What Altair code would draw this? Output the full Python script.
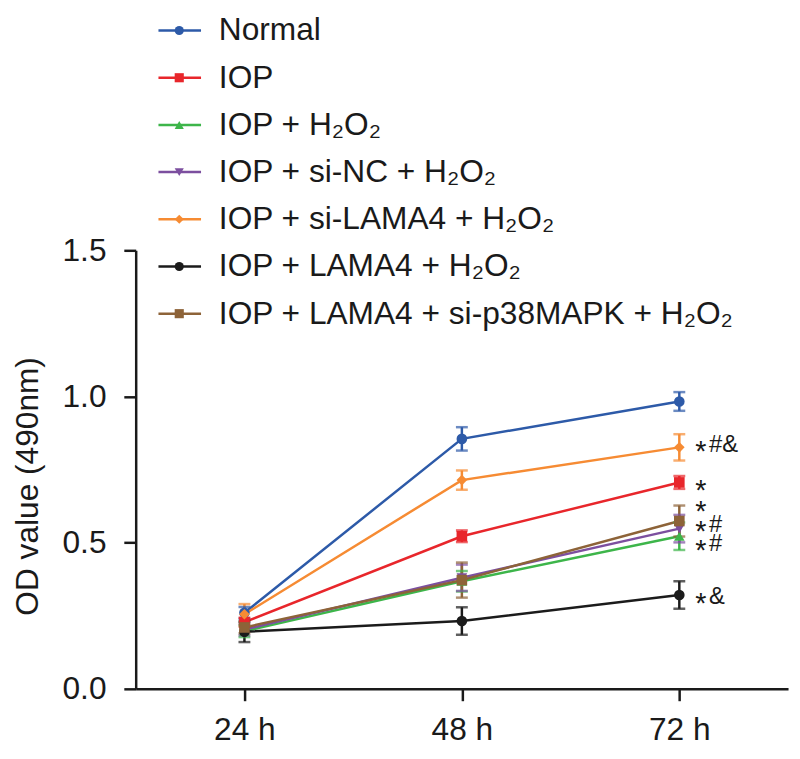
import altair as alt
import pandas as pd

# ---------------- data ----------------
times = [24, 48, 72]
groups = [
    "Normal",
    "IOP",
    "IOP + H₂O₂",
    "IOP + si-NC + H₂O₂",
    "IOP + si-LAMA4 + H₂O₂",
    "IOP + LAMA4 + H₂O₂",
    "IOP + LAMA4 + si-p38MAPK + H₂O₂",
]
colors = ["#2d5aa8", "#e8262b", "#3db54a", "#7c4f9f", "#f68b33", "#1b1b1b", "#8d6338"]
shapes = ["circle", "square", "triangle-up", "triangle-down", "diamond", "circle", "square"]

mean_normal = [0.26, 0.855, 0.983]
mean_iop = [0.228, 0.522, 0.706]
mean_h2o2 = [0.197, 0.368, 0.522]
mean_sinc = [0.203, 0.38, 0.548]
mean_silama4 = [0.255, 0.714, 0.826]
mean_lama4 = [0.195, 0.232, 0.321]
mean_p38 = [0.21, 0.372, 0.574]

err_normal = [0.02, 0.04, 0.032]
err_iop = [0.015, 0.02, 0.022]
err_h2o2 = [0.02, 0.035, 0.047]
err_sinc = [0.02, 0.045, 0.047]
err_silama4 = [0.035, 0.033, 0.045]
err_lama4 = [0.035, 0.047, 0.047]
err_p38 = [0.02, 0.06, 0.053]

means = [mean_normal, mean_iop, mean_h2o2, mean_sinc, mean_silama4, mean_lama4, mean_p38]
errs = [err_normal, err_iop, err_h2o2, err_sinc, err_silama4, err_lama4, err_p38]

# significance marks at 72 h: star part and symbol part
ann_stars = ["*", "*", "*", "*", "*", "*"]
ann_marks = ["#&", "", "", "#", "#", "&"]
ann_values = [0.833, 0.700, 0.629, 0.561, 0.494, 0.314]

# ---------------- tables ----------------
rows = []
for gi, g in enumerate(groups):
    for ti, t in enumerate(times):
        m = means[gi][ti]
        e = errs[gi][ti]
        rows.append({"group": g, "order": gi, "time": t, "mean": m, "lo": m - e, "hi": m + e})
df = pd.DataFrame(rows)
legend_df = pd.DataFrame({"group": groups, "row": list(range(len(groups)))})
ann_df = pd.DataFrame({"star": ann_stars, "mark": ann_marks, "value": ann_values,
                       "time": [72] * len(ann_values)})

FONT = "Liberation Sans"
INK = "#1a1a1a"
color_scale = alt.Scale(domain=groups, range=colors)
shape_scale = alt.Scale(domain=groups, range=shapes)
x_scale = alt.Scale(domain=[12, 84], nice=False, zero=False)
y_scale = alt.Scale(domain=[0, 1.5], nice=False)

color_enc = alt.Color("group:N", scale=color_scale, legend=None)

x_enc = alt.X(
    "time:Q",
    scale=x_scale,
    axis=alt.Axis(values=times, labelExpr="datum.value + ' h'", title=None, labelPadding=14),
)
y_enc = alt.Y(
    "mean:Q",
    scale=y_scale,
    axis=alt.Axis(
        values=[0, 0.5, 1.0, 1.5], format=".1f", title="OD value (490nm)",
        labelPadding=18, titleX=-109, titleY=238, titleBaseline="middle", titleAngle=-90,
    ),
)

base = alt.Chart(df)

lines = base.mark_line(strokeWidth=2.5).encode(
    x=x_enc, y=y_enc, color=color_enc, detail="group:N", order="time:Q",
)
bars = base.mark_rule(strokeWidth=2.5).encode(
    x=alt.X("time:Q", scale=x_scale), y=alt.Y("lo:Q", scale=y_scale), y2="hi:Q", color=color_enc,
)
cap_lo = base.mark_tick(thickness=2.5, size=12, orient="horizontal").encode(
    x=alt.X("time:Q", scale=x_scale), y=alt.Y("lo:Q", scale=y_scale), color=color_enc,
)
cap_hi = base.mark_tick(thickness=2.5, size=12, orient="horizontal").encode(
    x=alt.X("time:Q", scale=x_scale), y=alt.Y("hi:Q", scale=y_scale), color=color_enc,
)
points = base.mark_point(filled=True, size=115, opacity=1).encode(
    x=alt.X("time:Q", scale=x_scale), y=alt.Y("mean:Q", scale=y_scale),
    color=color_enc,
    shape=alt.Shape("group:N", scale=shape_scale, legend=None),
)
ann_star = alt.Chart(ann_df).mark_text(
    align="left", baseline="middle", dx=16, dy=7, fontSize=29, font=FONT, color=INK
).encode(
    x=alt.X("time:Q", scale=x_scale), y=alt.Y("value:Q", scale=y_scale), text="star:N"
)
ann_mark = alt.Chart(ann_df).mark_text(
    align="left", baseline="middle", dx=30, fontSize=24, font=FONT, color=INK
).encode(
    x=alt.X("time:Q", scale=x_scale), y=alt.Y("value:Q", scale=y_scale), text="mark:N"
)

data_layer = alt.layer(lines, bars, cap_lo, cap_hi, points, ann_star, ann_mark)

# ---------------- legend (drawn manually) ----------------
ly = alt.Y("row:Q", scale=alt.Scale(domain=[0, 6], range=[-222, 64], nice=False, zero=False), axis=None)
leg_line = alt.Chart(legend_df).mark_rule(strokeWidth=2.5).encode(
    x=alt.value(23), x2=alt.value(66), y=ly, color=color_enc,
)
leg_pt = alt.Chart(legend_df).mark_point(filled=True, size=85, opacity=1).encode(
    x=alt.value(44), y=ly,
    color=color_enc,
    shape=alt.Shape("group:N", scale=shape_scale, legend=None),
)
leg_txt = alt.Chart(legend_df).mark_text(align="left", baseline="middle", fontSize=32, font=FONT, color=INK).encode(
    x=alt.value(84), y=ly, text="group:N"
)
legend_layer = alt.layer(leg_line, leg_pt, leg_txt)

chart = (
    alt.layer(data_layer, legend_layer)
    .resolve_scale(y="independent")
    .properties(
        width=659,
        height=443,
        autosize=alt.AutoSizeParams(type="none"),
        padding={"left": 129, "top": 241, "right": 4, "bottom": 58},
    )
    .configure_view(stroke=None)
    .configure_axis(
        grid=False,
        domainColor=INK,
        domainWidth=2.5,
        tickColor=INK,
        tickWidth=2.5,
        tickSize=12,
        labelFont=FONT,
        labelFontSize=32,
        labelColor=INK,
        titleFont=FONT,
        titleFontSize=32,
        titleFontWeight="normal",
        titleColor=INK,
    )
)

chart.save("out.html", embed_options={"renderer": "svg", "actions": False})
